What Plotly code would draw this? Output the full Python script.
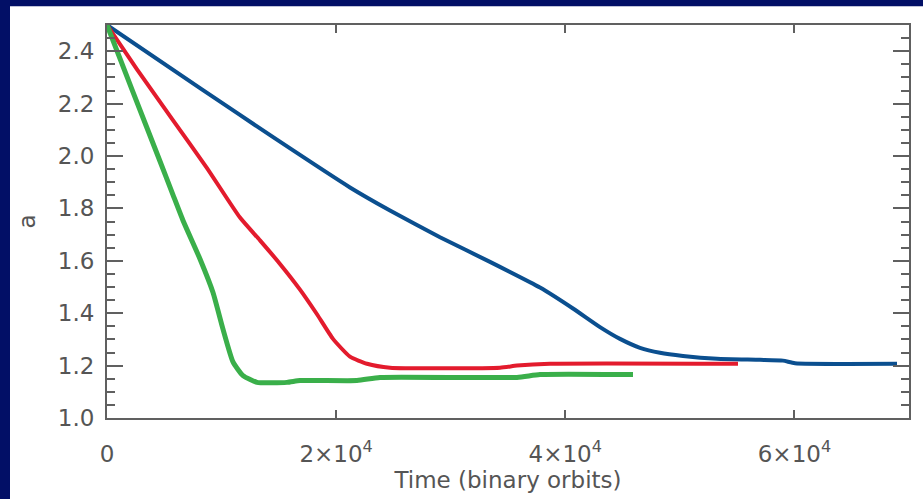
import plotly.graph_objects as go

# ---- data ----
blue_t = [0, 8117, 14663, 21209, 24700, 29064, 33428, 37792, 40672, 43030, 44775, 46520,
          48266, 50273, 53241, 56993, 59000, 60050, 68951]
blue_a = [2.500, 2.259, 2.067, 1.880, 1.792, 1.690, 1.596, 1.498, 1.418, 1.347, 1.302, 1.268,
          1.249, 1.237, 1.226, 1.222, 1.219, 1.209, 1.207]

red_t = [0, 2618, 5673, 8728, 11608, 13354, 15099, 16845, 18329, 19725, 21209, 22693,
         24700, 34301, 35785, 38665, 55074]
red_a = [2.500, 2.331, 2.142, 1.954, 1.765, 1.678, 1.588, 1.490, 1.396, 1.302, 1.234, 1.207,
         1.192, 1.192, 1.200, 1.207, 1.207]

green_t = [0, 2269, 4626, 5760, 6633, 8117, 9252, 10124, 10997, 11870, 13092, 15710,
           16845, 21820, 23827, 35785, 37792, 45910]
green_a = [2.500, 2.244, 1.980, 1.852, 1.754, 1.607, 1.479, 1.339, 1.214, 1.162, 1.136, 1.136,
           1.143, 1.143, 1.155, 1.155, 1.166, 1.166]

x_tickvals = [0, 20000, 40000, 60000]
x_ticktext = ["0", "2×10<sup>4</sup>", "4×10<sup>4</sup>", "6×10<sup>4</sup>"]
y_tickvals = [1.0, 1.2, 1.4, 1.6, 1.8, 2.0, 2.2, 2.4]
y_ticktext = ["1.0", "1.2", "1.4", "1.6", "1.8", "2.0", "2.2", "2.4"]

NAVY = "#020f66"
AXIS = "#606060"
TXT = "#555555"
FONT = "DejaVu Sans"

fig = go.Figure()
fig.add_trace(go.Scatter(x=blue_t, y=blue_a, mode="lines",
                         line=dict(color="#0b4f8f", width=4, shape="spline", smoothing=0.5),
                         showlegend=False))
fig.add_trace(go.Scatter(x=red_t, y=red_a, mode="lines",
                         line=dict(color="#e31b2d", width=4, shape="spline", smoothing=0.5),
                         showlegend=False))
fig.add_trace(go.Scatter(x=green_t, y=green_a, mode="lines",
                         line=dict(color="#3aaf4a", width=5, shape="spline", smoothing=0.5),
                         showlegend=False))

L, R, T, B = 107, 14, 25, 76
W, H = 923, 499
pw, ph = W - L - R, H - T - B

def px(x):
    return (x - L) / pw

def py(y):
    return (H - B - y) / ph

fig.add_shape(type="rect", xref="paper", yref="paper",
              x0=px(10), x1=px(940), y0=py(520), y1=py(6),
              fillcolor="white", line=dict(width=0), layer="below")

fig.update_layout(
    width=W, height=H,
    margin=dict(l=L, r=R, t=T, b=B),
    paper_bgcolor=NAVY, plot_bgcolor="white",
    font=dict(family=FONT, color=TXT, size=23),
    xaxis=dict(range=[0, 70000], tickvals=x_tickvals, ticktext=x_ticktext,
               ticks="inside", ticklen=8, tickwidth=2, tickcolor=AXIS,
               showline=True, linecolor=AXIS, linewidth=2, mirror="ticks",
               showgrid=False, zeroline=False, ticklabelstandoff=14,
               title=dict(text="Time (binary orbits)", standoff=4,
                          font=dict(size=23, color=TXT))),
    yaxis=dict(range=[1.0, 2.5], tickvals=y_tickvals, ticktext=y_ticktext,
               ticks="inside", ticklen=16, tickwidth=2, tickcolor=AXIS,
               showline=True, linecolor=AXIS, linewidth=2, mirror="ticks",
               showgrid=False, zeroline=False, ticklabelstandoff=6,
               minor=dict(dtick=0.05, tick0=1.0, ticks="inside", ticklen=8,
                          tickwidth=2, tickcolor=AXIS, showgrid=False),
               title=dict(text="a", standoff=16, font=dict(size=23, color=TXT))),
)

fig.write_html("out.html")
